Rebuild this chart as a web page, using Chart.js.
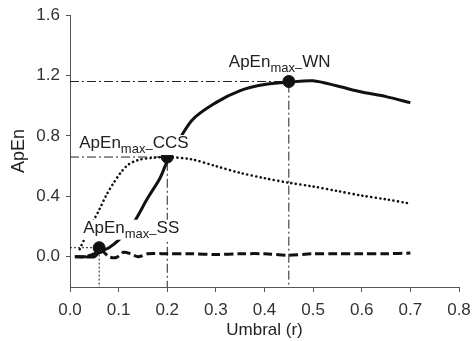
<!DOCTYPE html>
<html>
<head>
<meta charset="utf-8">
<script src="https://cdn.jsdelivr.net/npm/chart.js@4.4.1/dist/chart.umd.min.js"></script>
<style>
  body { margin: 0; background: #fff; }
  #wrap { width: 473px; height: 341px; position: relative; }
</style>
</head>
<body>
<div id="wrap"><canvas id="apenChart"></canvas></div>
<script>
// ApEn vs threshold r, three signals
const rWN = [0.01, 0.03, 0.05, 0.06, 0.08, 0.10, 0.13, 0.16, 0.185, 0.20, 0.25, 0.30, 0.35, 0.40, 0.45, 0.50, 0.55, 0.60, 0.65, 0.70];
const apenWN = [0.0, 0.0, 0.0, 0.03, 0.06, 0.11, 0.22, 0.39, 0.52, 0.63, 0.90, 1.02, 1.10, 1.14, 1.155, 1.165, 1.13, 1.09, 1.06, 1.02];

const rCCS = [0.02, 0.03, 0.04, 0.05, 0.06, 0.075, 0.09, 0.105, 0.12, 0.14, 0.17, 0.20, 0.25, 0.30, 0.35, 0.40, 0.45, 0.50, 0.55, 0.60, 0.65, 0.695];
const apenCCS = [0.05, 0.12, 0.19, 0.25, 0.31, 0.41, 0.49, 0.56, 0.61, 0.64, 0.655, 0.66, 0.645, 0.60, 0.555, 0.52, 0.49, 0.465, 0.435, 0.405, 0.38, 0.355];

const rSS = [0.01, 0.03, 0.05, 0.065, 0.08, 0.095, 0.11, 0.125, 0.14, 0.16, 0.20, 0.25, 0.30, 0.35, 0.40, 0.45, 0.50, 0.55, 0.60, 0.65, 0.70];
const apenSS = [0.0, 0.0, 0.02, 0.04, 0.0, -0.005, 0.03, 0.02, 0.0, 0.02, 0.02, 0.02, 0.015, 0.02, 0.02, 0.01, 0.02, 0.02, 0.02, 0.02, 0.025];

// maxima marked on the plot
const peakNames = ['SS', 'CCS', 'WN'];
const peakR = [0.06, 0.20, 0.45];
const peakApEn = [0.06, 0.66, 1.16];

const xTicks = [0, 0.1, 0.2, 0.3, 0.4, 0.5, 0.6, 0.7, 0.8];
const yTicks = [0, 0.4, 0.8, 1.2, 1.6];

const toPts = (xs, ys) => xs.map((v, i) => ({ x: v, y: ys[i] }));

const FONT = '"Liberation Sans", Arial, sans-serif';

// dash-dot guides from each maximum to both axes
const Y_MIN = -0.2;
const guideSets = peakR.map((r, i) => ({
  data: [{ x: 0, y: peakApEn[i] }, { x: r, y: peakApEn[i] }, { x: r, y: Y_MIN }],
  showLine: true,
  borderColor: '#222',
  borderWidth: 1,
  borderDash: i === 0 ? [2, 2] : [9, 3, 2, 3],
  pointRadius: 0,
  tension: 0,
  order: 5
}));

// text boxes next to each maximum: offset of left edge / baseline from the dot
const labelOffsets = [[-16, -15], [-88, -9], [-60, -14]];

const peakLabels = {
  id: 'peakLabels',
  afterDatasetsDraw(chart) {
    const { ctx, scales: { x, y } } = chart;
    const big = '17px ' + FONT, small = '13px ' + FONT;
    ctx.save();
    peakR.forEach((r, i) => {
      const px = x.getPixelForValue(r);
      const py = y.getPixelForValue(peakApEn[i]);
      const left = px + labelOffsets[i][0];
      const base = py + labelOffsets[i][1];
      ctx.font = big;
      const w1 = ctx.measureText('ApEn').width;
      const w3 = ctx.measureText(peakNames[i]).width;
      ctx.font = small;
      const w2 = ctx.measureText('max–').width;
      ctx.fillStyle = '#fff';
      ctx.fillRect(left - 1, base - 13, w1 + w2 + w3 + 3, 20);
      ctx.fillStyle = '#222';
      ctx.textBaseline = 'alphabetic';
      ctx.textAlign = 'left';
      ctx.font = big;
      ctx.fillText('ApEn', left, base);
      ctx.font = small;
      ctx.fillText('max–', left + w1, base + 5);
      ctx.font = big;
      ctx.fillText(peakNames[i], left + w1 + w2, base);
    });
    ctx.restore();
  }
};

new Chart(document.getElementById('apenChart'), {
  type: 'scatter',
  data: {
    datasets: [
      {
        label: 'WN',
        data: toPts(rWN, apenWN),
        showLine: true,
        borderColor: '#111',
        borderWidth: 3,
        pointRadius: 0,
        tension: 0.3,
        order: 2
      },
      {
        label: 'CCS',
        data: toPts(rCCS, apenCCS),
        showLine: true,
        borderColor: '#111',
        borderWidth: 2.6,
        borderDash: [0.1, 4.4],
        borderCapStyle: 'round',
        pointRadius: 0,
        tension: 0.3,
        order: 3
      },
      {
        label: 'SS',
        data: toPts(rSS, apenSS),
        showLine: true,
        borderColor: '#111',
        borderWidth: 3,
        borderDash: [9, 4],
        pointRadius: 0,
        tension: 0.3,
        order: 4
      },
      ...guideSets,
      {
        label: 'max',
        data: toPts(peakR, peakApEn),
        showLine: false,
        pointRadius: 6,
        pointBackgroundColor: '#111',
        pointBorderColor: '#111',
        order: 1
      }
    ]
  },
  options: {
    responsive: true,
    maintainAspectRatio: false,
    animation: false,
    layout: { padding: { top: 15, right: 14, left: 0, bottom: 0 } },
    plugins: {
      legend: { display: false },
      tooltip: { enabled: false }
    },
    scales: {
      x: {
        type: 'linear',
        min: 0,
        max: 0.8,
        afterFit: (s) => {
          s.height = 54;
          s.paddingLeft = 0;
          s.paddingRight = 0;
        },
        afterBuildTicks: (s) => { s.ticks = xTicks.map(v => ({ value: v })); },
        ticks: {
          color: '#333',
          font: { size: 17, family: FONT },
          padding: 8,
          maxRotation: 0,
          callback: (v) => v.toFixed(1)
        },
        grid: { drawOnChartArea: false, drawTicks: true, tickLength: 5, color: '#555' },
        border: { display: true, color: '#555' },
        title: {
          display: true,
          text: 'Umbral (r)',
          color: '#222',
          font: { size: 17, family: FONT },
          padding: { top: 0, bottom: 0 }
        }
      },
      y: {
        type: 'linear',
        min: Y_MIN,
        max: 1.6,
        afterFit: (s) => {
          s.width = 70;
          s.paddingTop = 0;
          s.paddingBottom = 0;
        },
        afterBuildTicks: (s) => { s.ticks = yTicks.map(v => ({ value: v })); },
        ticks: {
          color: '#333',
          font: { size: 17, family: FONT },
          padding: 6,
          callback: (v) => v.toFixed(1)
        },
        grid: { drawOnChartArea: false, drawTicks: true, tickLength: 4, color: '#555' },
        border: { display: true, color: '#555' },
        title: {
          display: true,
          text: 'ApEn',
          color: '#222',
          font: { size: 18, family: FONT },
          padding: { top: 8, bottom: 0 }
        }
      }
    }
  },
  plugins: [peakLabels]
});
</script>
</body>
</html>
